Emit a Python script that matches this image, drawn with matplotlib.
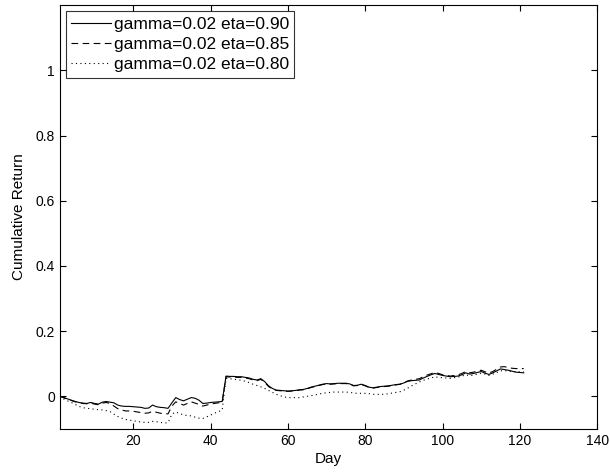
import numpy as np
import matplotlib.pyplot as plt

plt.rcParams['font.family'] = ['Liberation Sans', 'DejaVu Sans']

# cumulative return per day for three eta settings (gamma fixed at 0.02)
days = np.arange(1, 122)

ret_eta090 = [
    0.000, -0.004, -0.008, -0.012, -0.016, -0.019, -0.021, -0.022, -0.019, -0.022,
    -0.024, -0.018, -0.016, -0.018, -0.020, -0.027, -0.030, -0.031, -0.031, -0.032,
    -0.033, -0.034, -0.037, -0.036, -0.027, -0.032, -0.034, -0.035, -0.037, -0.020,
    -0.004, -0.010, -0.014, -0.009, -0.004, -0.006, -0.012, -0.022, -0.021, -0.019,
    -0.018, -0.017, -0.016, 0.062, 0.061, 0.061, 0.060, 0.060, 0.058, 0.056,
    0.052, 0.050, 0.054, 0.045, 0.032, 0.024, 0.019, 0.018, 0.017, 0.016,
    0.017, 0.018, 0.020, 0.021, 0.024, 0.028, 0.031, 0.034, 0.037, 0.039,
    0.038, 0.039, 0.040, 0.040, 0.040, 0.038, 0.033, 0.034, 0.037, 0.033,
    0.028, 0.026, 0.028, 0.030, 0.031, 0.032, 0.034, 0.036, 0.037, 0.041,
    0.046, 0.048, 0.049, 0.050, 0.056, 0.061, 0.066, 0.070, 0.067, 0.064,
    0.062, 0.060, 0.061, 0.062, 0.066, 0.072, 0.068, 0.070, 0.073, 0.076,
    0.071, 0.067, 0.072, 0.078, 0.084, 0.082, 0.080, 0.077, 0.074, 0.073,
    0.072,
]

ret_eta085 = [
    0.000, -0.004, -0.009, -0.013, -0.017, -0.020, -0.022, -0.023, -0.021, -0.024,
    -0.026, -0.021, -0.019, -0.022, -0.030, -0.038, -0.042, -0.045, -0.045, -0.046,
    -0.048, -0.050, -0.052, -0.051, -0.046, -0.049, -0.052, -0.053, -0.054, -0.030,
    -0.017, -0.022, -0.027, -0.022, -0.017, -0.021, -0.025, -0.030, -0.027, -0.024,
    -0.022, -0.020, -0.019, 0.060, 0.059, 0.059, 0.058, 0.058, 0.056, 0.054,
    0.050, 0.048, 0.052, 0.043, 0.030, 0.022, 0.018, 0.017, 0.016, 0.015,
    0.016, 0.017, 0.019, 0.020, 0.023, 0.027, 0.030, 0.033, 0.036, 0.038,
    0.037, 0.038, 0.039, 0.039, 0.039, 0.037, 0.032, 0.033, 0.036, 0.032,
    0.027, 0.025, 0.027, 0.029, 0.030, 0.031, 0.033, 0.035, 0.037, 0.042,
    0.047, 0.050, 0.052, 0.054, 0.060, 0.065, 0.069, 0.073, 0.070, 0.066,
    0.064, 0.062, 0.064, 0.066, 0.070, 0.076, 0.072, 0.074, 0.077, 0.080,
    0.075, 0.071, 0.076, 0.083, 0.090, 0.091, 0.088, 0.086, 0.085, 0.085,
    0.085,
]

ret_eta080 = [
    0.000, -0.008, -0.014, -0.019, -0.025, -0.031, -0.035, -0.037, -0.038, -0.040,
    -0.041, -0.042, -0.044, -0.047, -0.055, -0.062, -0.067, -0.071, -0.073, -0.075,
    -0.077, -0.079, -0.080, -0.080, -0.077, -0.078, -0.080, -0.082, -0.081, -0.055,
    -0.048, -0.053, -0.057, -0.059, -0.060, -0.064, -0.067, -0.068, -0.063, -0.058,
    -0.052, -0.047, -0.043, 0.055, 0.054, 0.052, 0.051, 0.049, 0.046, 0.042,
    0.037, 0.033, 0.029, 0.024, 0.018, 0.012, 0.006, 0.002, -0.002, -0.004,
    -0.004, -0.004, -0.004, -0.002, 0.000, 0.002, 0.004, 0.007, 0.009, 0.011,
    0.012, 0.013, 0.013, 0.013, 0.013, 0.012, 0.010, 0.009, 0.009, 0.009,
    0.008, 0.006, 0.006, 0.006, 0.006, 0.008, 0.010, 0.012, 0.014, 0.019,
    0.025, 0.032, 0.038, 0.044, 0.049, 0.053, 0.056, 0.060, 0.058, 0.057,
    0.056, 0.055, 0.057, 0.059, 0.062, 0.066, 0.063, 0.065, 0.068, 0.071,
    0.068, 0.064, 0.068, 0.073, 0.078, 0.079, 0.077, 0.076, 0.075, 0.075,
    0.075,
]

labels = ["gamma=0.02 eta=0.90", "gamma=0.02 eta=0.85", "gamma=0.02 eta=0.80"]

fig = plt.figure(figsize=(6.1, 4.76), dpi=100)
ax = fig.add_axes([0.098, 0.099, 0.881, 0.890])

ax.plot(days, ret_eta090, color="black", linestyle="-", linewidth=0.8, label=labels[0])
ax.plot(days, ret_eta085, color="black", linestyle=(0, (6, 4)), linewidth=0.8, label=labels[1])
ax.plot(days, ret_eta080, color="black", linestyle=(0, (1, 3)), linewidth=0.8, label=labels[2])

ax.set_xlim(1, 140)
ax.set_ylim(-0.1, 1.2)
ax.set_xticks([20, 40, 60, 80, 100, 120, 140])
ax.set_yticks([0, 0.2, 0.4, 0.6, 0.8, 1])
ax.set_yticklabels(["0", "0.2", "0.4", "0.6", "0.8", "1"])
ax.tick_params(direction="in", top=True, right=True, length=4, labelsize=10)
for sp in ax.spines.values():
    sp.set_linewidth(0.8)

ax.set_xlabel("Day", fontsize=11, labelpad=3)
ax.set_ylabel("Cumulative Return", fontsize=11, labelpad=7)

leg = ax.legend(loc="upper left", fontsize=12.5, frameon=True, fancybox=False,
                edgecolor="black", handlelength=2.3, handletextpad=0.15,
                borderaxespad=0.35, borderpad=0.3, labelspacing=0.3)
leg.get_frame().set_linewidth(0.8)

fig.savefig("out.png", dpi=100)
